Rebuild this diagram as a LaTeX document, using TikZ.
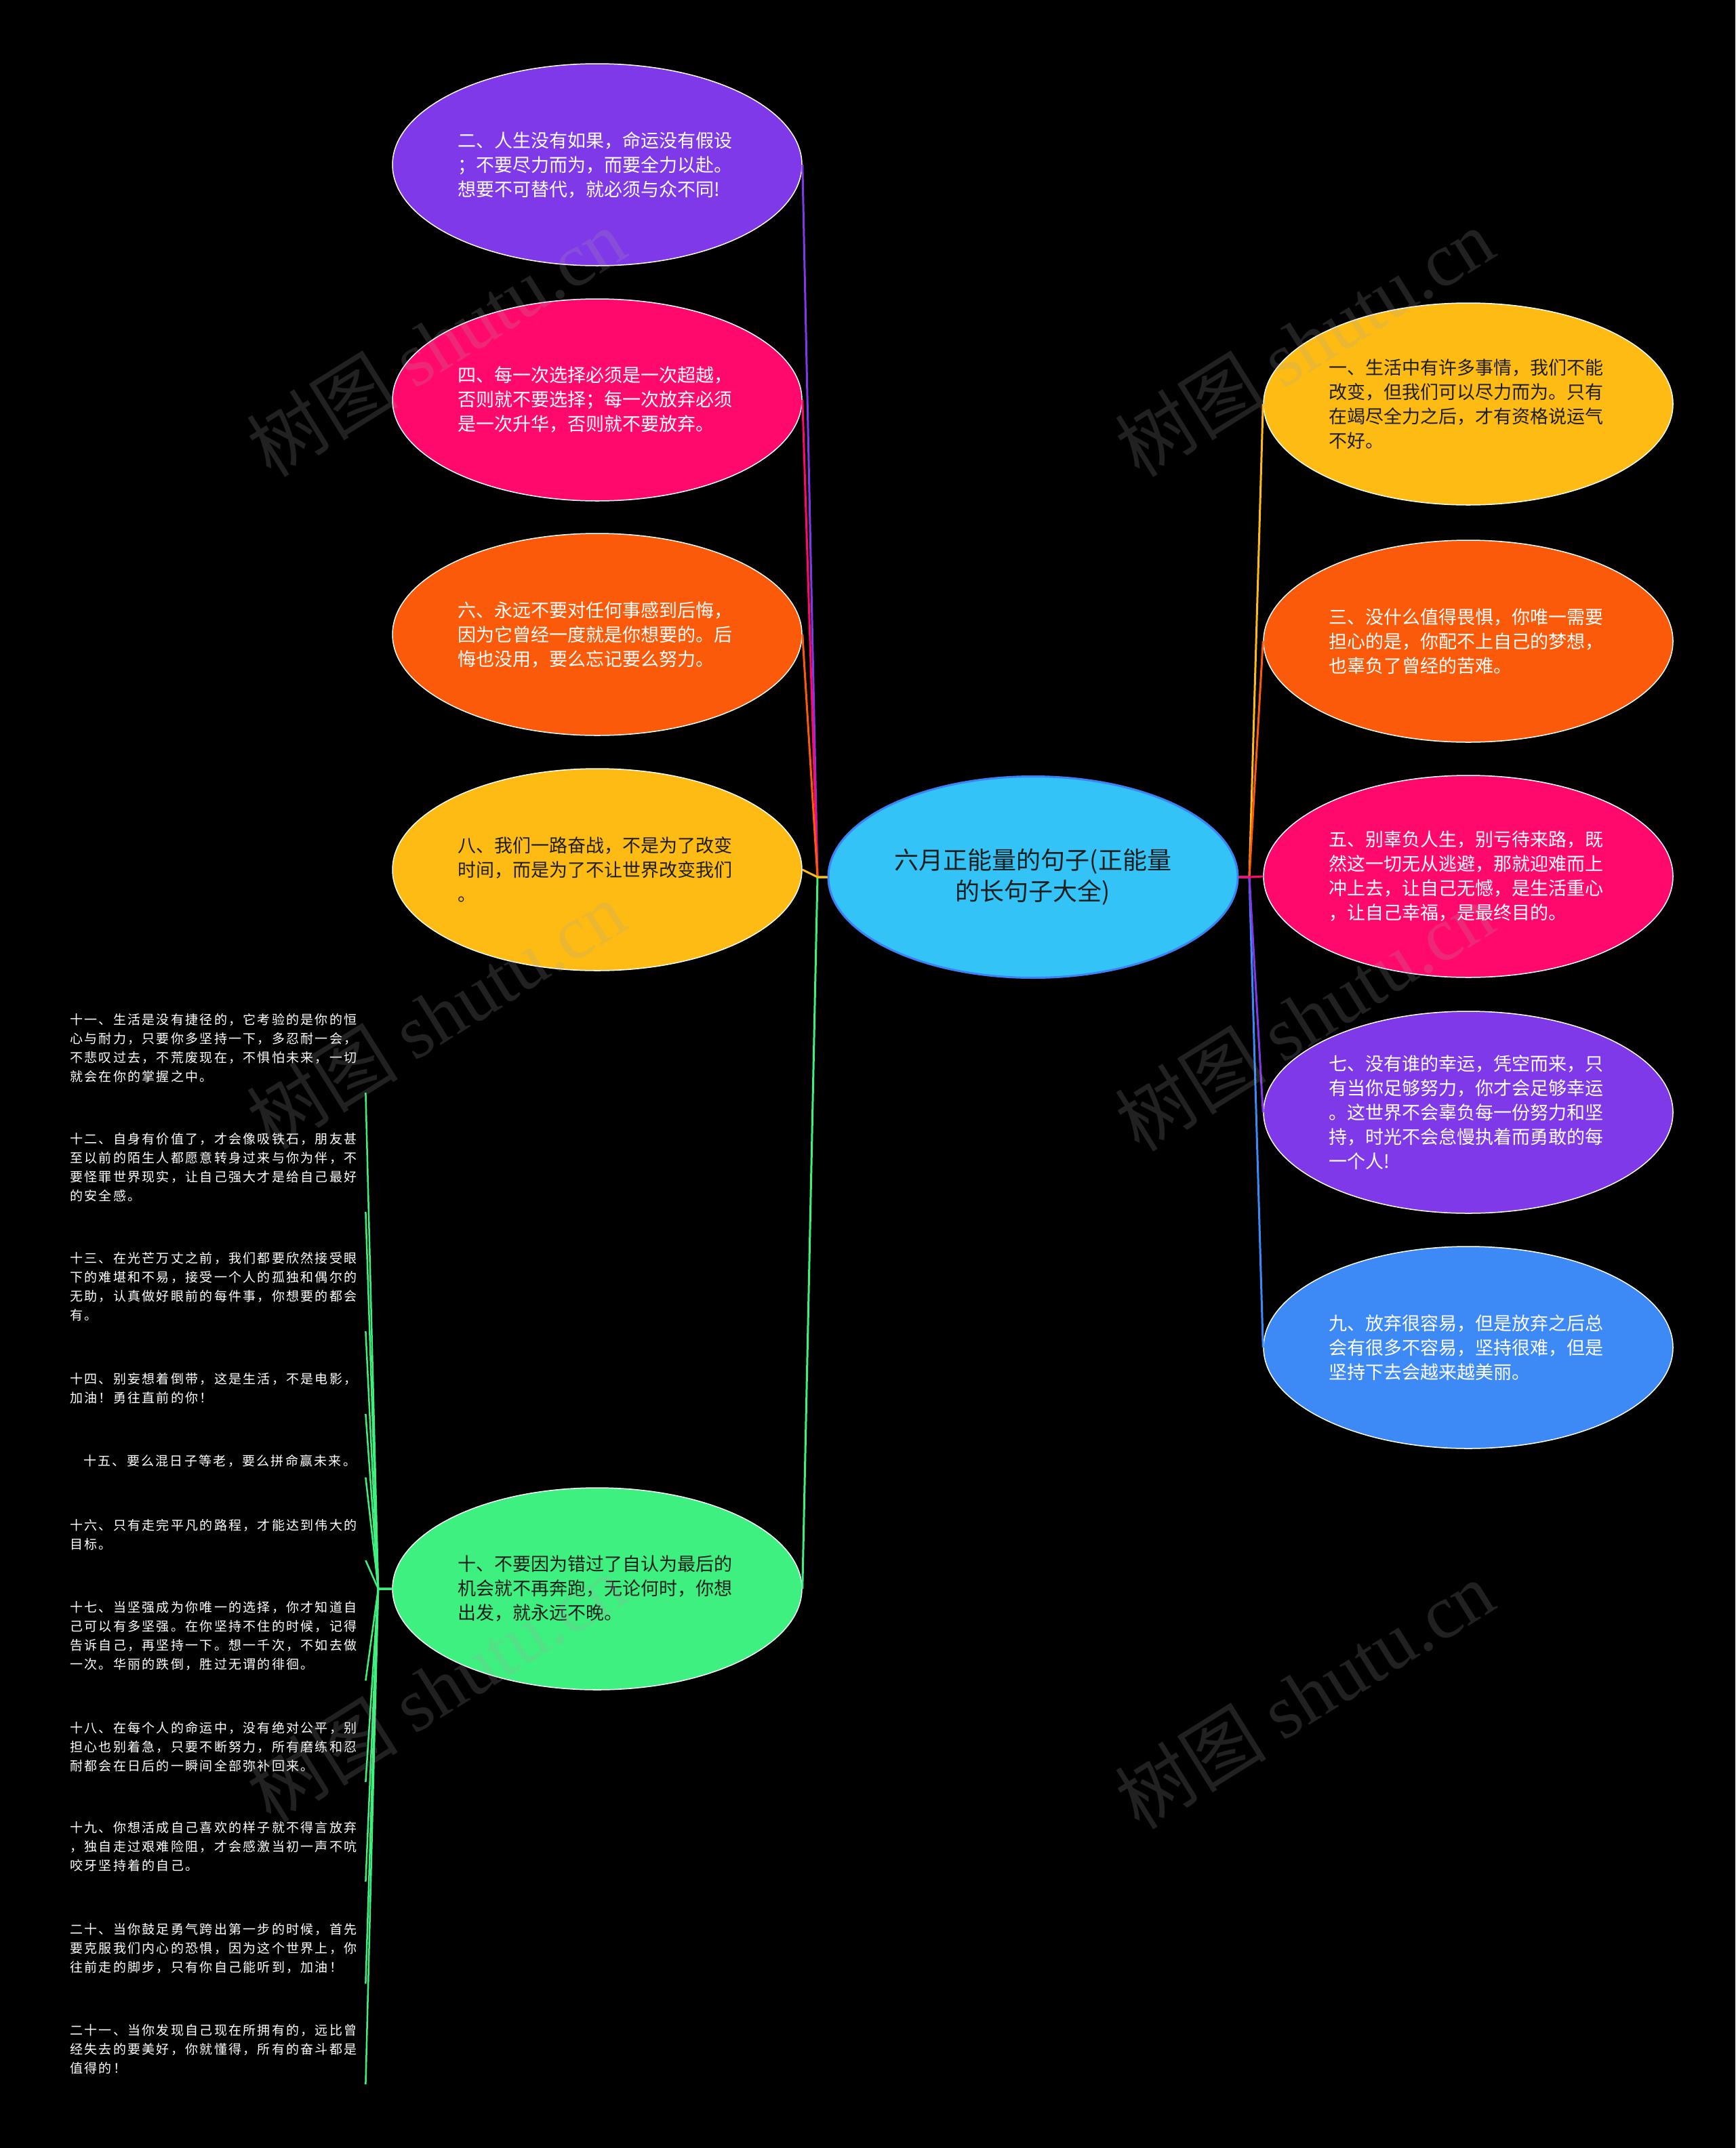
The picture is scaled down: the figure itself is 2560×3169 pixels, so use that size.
\documentclass[tikz,border=0pt]{standalone}
\usepackage{fontspec}
\setmainfont{Noto Sans CJK SC}
\newfontfamily\listfont[LetterSpace=12]{Noto Sans CJK SC}
\newfontfamily\wmserif{Liberation Serif}
\usetikzlibrary{shapes.geometric}
\definecolor{cpurple}{HTML}{8039E8}
\definecolor{cpink}{HTML}{FF0A6C}
\definecolor{corange}{HTML}{FA5A0A}
\definecolor{cyellow}{HTML}{FDBB13}
\definecolor{cgreen}{HTML}{3EF080}
\definecolor{cblue}{HTML}{3D8AF7}
\definecolor{ccenter}{HTML}{33C3F7}
\definecolor{cborder}{HTML}{3B82F6}
\definecolor{cdark}{HTML}{1E1E1E}
\tikzset{
  leaf/.style={ellipse, minimum width=604pt, minimum height=298pt, inner sep=0pt,
    draw=white, line width=1.5pt, text width=412pt, align=left,
    font=\fontsize{27}{36}\selectfont},
  hub/.style={ellipse, minimum width=604pt, minimum height=297pt, inner sep=0pt,
    draw=cborder, line width=3pt, fill=ccenter, text=cdark, align=center,
    font=\fontsize{36}{46}\selectfont},
  listitem/.style={anchor=north west, text width=430pt, inner xsep=6pt, inner ysep=15pt,
    align=left, text=white, font=\listfont\fontsize{19}{28}\selectfont},
  conn/.style={line width=3pt},
  fan/.style={line width=2.5pt, draw=cgreen},
  wm/.style={rotate=32, text=gray!70, opacity=0.2, font=\fontsize{112}{120}\selectfont}
}
\begin{document}
\begin{tikzpicture}[x=1pt,y=-1pt]
\fill[black] (0,0) rectangle (2560,3169);
\useasboundingbox (0,0) rectangle (2560,3169);

% center
\node[hub] (ctr) at (1524,1294) {六月正能量的句子(正能量\\的长句子大全)};

% left ellipses
\node[leaf, fill=cpurple, text=white] (n2) at (881,243) {二、人生没有如果，命运没有假设\\；不要尽力而为，而要全力以赴。\\想要不可替代，就必须与众不同!};
\node[leaf, fill=cpink, text=white] (n4) at (881,590) {四、每一次选择必须是一次超越，\\否则就不要选择；每一次放弃必须\\是一次升华，否则就不要放弃。};
\node[leaf, fill=corange, text=white] (n6) at (881,936) {六、永远不要对任何事感到后悔，\\因为它曾经一度就是你想要的。后\\悔也没用，要么忘记要么努力。};
\node[leaf, fill=cyellow, text=cdark] (n8) at (881,1283) {八、我们一路奋战，不是为了改变\\时间，而是为了不让世界改变我们\\。};
\node[leaf, fill=cgreen, text=cdark] (n10) at (881,2344) {十、不要因为错过了自认为最后的\\机会就不再奔跑，无论何时，你想\\出发，就永远不晚。};

% right ellipses
\node[leaf, fill=cyellow, text=cdark] (n1) at (2166,596) {一、生活中有许多事情，我们不能\\改变，但我们可以尽力而为。只有\\在竭尽全力之后，才有资格说运气\\不好。};
\node[leaf, fill=corange, text=white] (n3) at (2166,946) {三、没什么值得畏惧，你唯一需要\\担心的是，你配不上自己的梦想，\\也辜负了曾经的苦难。};
\node[leaf, fill=cpink, text=white] (n5) at (2166,1293) {五、别辜负人生，别亏待来路，既\\然这一切无从逃避，那就迎难而上\\冲上去，让自己无憾，是生活重心\\，让自己幸福，是最终目的。};
\node[leaf, fill=cpurple, text=white] (n7) at (2166,1641) {七、没有谁的幸运，凭空而来，只\\有当你足够努力，你才会足够幸运\\。这世界不会辜负每一份努力和坚\\持，时光不会怠慢执着而勇敢的每\\一个人!};
\node[leaf, fill=cblue, text=white] (n9) at (2166,1988) {九、放弃很容易，但是放弃之后总\\会有很多不容易，坚持很难，但是\\坚持下去会越来越美丽。};

% list items
\node[listitem] (i11) at (97,1480) {十一、生活是没有捷径的，它考验的是你的恒\\心与耐力，只要你多坚持一下，多忍耐一会，\\不悲叹过去，不荒废现在，不惧怕未来，一切\\就会在你的掌握之中。};
\node[listitem] (i12) at (97,1656) {十二、自身有价值了，才会像吸铁石，朋友甚\\至以前的陌生人都愿意转身过来与你为伴，不\\要怪罪世界现实，让自己强大才是给自己最好\\的安全感。};
\node[listitem] (i13) at (97,1832) {十三、在光芒万丈之前，我们都要欣然接受眼\\下的难堪和不易，接受一个人的孤独和偶尔的\\无助，认真做好眼前的每件事，你想要的都会\\有。};
\node[listitem] (i14) at (97,2010) {十四、别妄想着倒带，这是生活，不是电影，\\加油！勇往直前的你！};
\node[listitem] (i15) at (97,2131) {\hspace*{20pt}十五、要么混日子等老，要么拼命赢未来。};
\node[listitem] (i16) at (97,2226) {十六、只有走完平凡的路程，才能达到伟大的\\目标。};
\node[listitem] (i17) at (97,2347) {十七、当坚强成为你唯一的选择，你才知道自\\己可以有多坚强。在你坚持不住的时候，记得\\告诉自己，再坚持一下。想一千次，不如去做\\一次。华丽的跌倒，胜过无谓的徘徊。};
\node[listitem] (i18) at (97,2525) {十八、在每个人的命运中，没有绝对公平，别\\担心也别着急，只要不断努力，所有磨练和忍\\耐都会在日后的一瞬间全部弥补回来。};
\node[listitem] (i19) at (97,2672) {十九、你想活成自己喜欢的样子就不得言放弃\\，独自走过艰难险阻，才会感激当初一声不吭\\咬牙坚持着的自己。};
\node[listitem] (i20) at (97,2822) {二十、当你鼓足勇气跨出第一步的时候，首先\\要克服我们内心的恐惧，因为这个世界上，你\\往前走的脚步，只有你自己能听到，加油！};
\node[listitem] (i21) at (97,2971) {二十一、当你发现自己现在所拥有的，远比曾\\经失去的要美好，你就懂得，所有的奋斗都是\\值得的！};

% junctions
\coordinate (jl) at (1206,1294);
\coordinate (jr) at (1843,1294);
\coordinate (jg) at (558,2344);

% left connectors
\draw[conn, cpurple] (ctr.west) -- (jl) -- (n2.east);
\draw[conn, cpink] (ctr.west) -- (jl) -- (n4.east);
\draw[conn, corange] (ctr.west) -- (jl) -- (n6.east);
\draw[conn, cgreen] (ctr.west) -- (jl) -- (n10.east);
\draw[conn, cyellow] (ctr.west) -- (jl) -- (n8.east);
% right connectors
\draw[conn, cyellow] (ctr.east) -- (jr) -- (n1.west);
\draw[conn, corange] (ctr.east) -- (jr) -- (n3.west);
\draw[conn, cblue] (ctr.east) -- (jr) -- (n9.west);
\draw[conn, cpurple] (ctr.east) -- (jr) -- (n7.west);
\draw[conn, cpink] (ctr.east) -- (jr) -- (n5.west);

% fan connectors
\foreach \k in {11,...,21} {
  \draw[fan] (n10.west) -- (jg) -- (i\k.south east);
}

% watermarks
\node[wm] (wm1) at (643,505) {树图 {\wmserif shutu.cn}};
\node[wm] (wm2) at (1924,505) {树图 {\wmserif shutu.cn}};
\node[wm] (wm3) at (643,1497) {树图 {\wmserif shutu.cn}};
\node[wm] (wm4) at (1924,1500) {树图 {\wmserif shutu.cn}};
\node[wm] (wm5) at (643,2490) {树图 {\wmserif shutu.cn}};
\node[wm] (wm6) at (1924,2500) {树图 {\wmserif shutu.cn}};
\end{tikzpicture}
\end{document}
